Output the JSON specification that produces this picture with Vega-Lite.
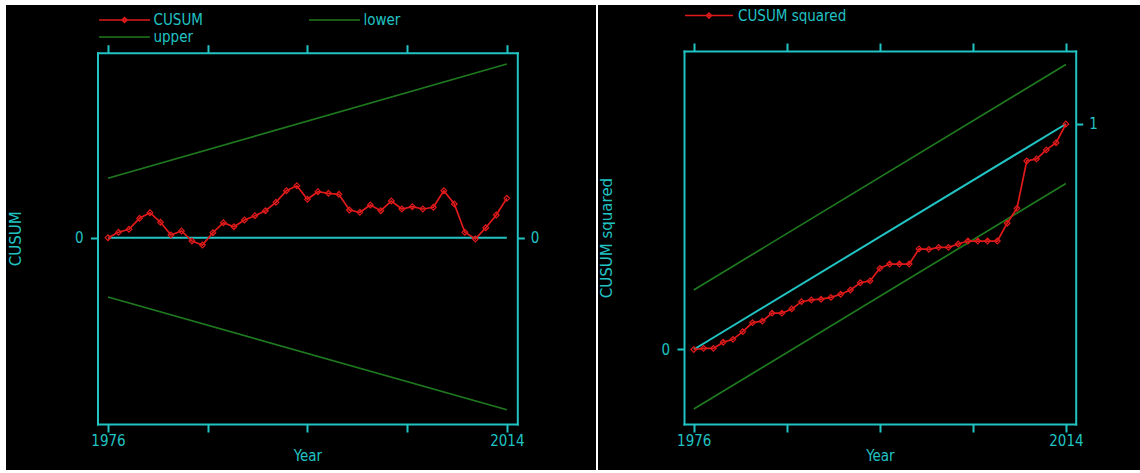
{
  "$schema": "https://vega.github.io/schema/vega-lite/v6.json",
  "background": "white",
  "padding": {"left": 6, "top": 5, "right": 0, "bottom": 3},
  "spacing": 2,
  "datasets": {
    "zero": [{"year": 1976, "value": 0}, {"year": 2014, "value": 0}],
    "cusum": [
      {"year": 1976, "series": "CUSUM", "value": 0},
      {"year": 1977, "series": "CUSUM", "value": 0.54},
      {"year": 1978, "series": "CUSUM", "value": 0.84},
      {"year": 1979, "series": "CUSUM", "value": 1.94},
      {"year": 1980, "series": "CUSUM", "value": 2.5},
      {"year": 1981, "series": "CUSUM", "value": 1.54},
      {"year": 1982, "series": "CUSUM", "value": 0.27},
      {"year": 1983, "series": "CUSUM", "value": 0.67},
      {"year": 1984, "series": "CUSUM", "value": -0.33},
      {"year": 1985, "series": "CUSUM", "value": -0.73},
      {"year": 1986, "series": "CUSUM", "value": 0.5},
      {"year": 1987, "series": "CUSUM", "value": 1.5},
      {"year": 1988, "series": "CUSUM", "value": 1.1},
      {"year": 1989, "series": "CUSUM", "value": 1.77},
      {"year": 1990, "series": "CUSUM", "value": 2.2},
      {"year": 1991, "series": "CUSUM", "value": 2.7},
      {"year": 1992, "series": "CUSUM", "value": 3.54},
      {"year": 1993, "series": "CUSUM", "value": 4.7},
      {"year": 1994, "series": "CUSUM", "value": 5.2},
      {"year": 1995, "series": "CUSUM", "value": 3.84},
      {"year": 1996, "series": "CUSUM", "value": 4.6},
      {"year": 1997, "series": "CUSUM", "value": 4.44},
      {"year": 1998, "series": "CUSUM", "value": 4.34},
      {"year": 1999, "series": "CUSUM", "value": 2.77},
      {"year": 2000, "series": "CUSUM", "value": 2.54},
      {"year": 2001, "series": "CUSUM", "value": 3.27},
      {"year": 2002, "series": "CUSUM", "value": 2.7},
      {"year": 2003, "series": "CUSUM", "value": 3.67},
      {"year": 2004, "series": "CUSUM", "value": 2.87},
      {"year": 2005, "series": "CUSUM", "value": 3.1},
      {"year": 2006, "series": "CUSUM", "value": 2.87},
      {"year": 2007, "series": "CUSUM", "value": 3.04},
      {"year": 2008, "series": "CUSUM", "value": 4.7},
      {"year": 2009, "series": "CUSUM", "value": 3.37},
      {"year": 2010, "series": "CUSUM", "value": 0.54},
      {"year": 2011, "series": "CUSUM", "value": -0.13},
      {"year": 2012, "series": "CUSUM", "value": 1.0},
      {"year": 2013, "series": "CUSUM", "value": 2.27},
      {"year": 2014, "series": "CUSUM", "value": 3.94},
      {"year": 1976, "series": "lower", "value": -5.93},
      {"year": 2014, "series": "lower", "value": -17.2},
      {"year": 1976, "series": "upper", "value": 5.94},
      {"year": 2014, "series": "upper", "value": 17.37}
    ],
    "sqexp": [{"year": 1976, "value": 0}, {"year": 2014, "value": 1}],
    "sqbounds": [
      {"year": 1976, "series": "lower", "value": -0.264},
      {"year": 2014, "series": "lower", "value": 0.736},
      {"year": 1976, "series": "upper", "value": 0.264},
      {"year": 2014, "series": "upper", "value": 1.264}
    ],
    "cusumsq": [
      {"year": 1976, "series": "CUSUM squared", "value": 0},
      {"year": 1977, "series": "CUSUM squared", "value": 0.005},
      {"year": 1978, "series": "CUSUM squared", "value": 0.005},
      {"year": 1979, "series": "CUSUM squared", "value": 0.032},
      {"year": 1980, "series": "CUSUM squared", "value": 0.045},
      {"year": 1981, "series": "CUSUM squared", "value": 0.079},
      {"year": 1982, "series": "CUSUM squared", "value": 0.119},
      {"year": 1983, "series": "CUSUM squared", "value": 0.126},
      {"year": 1984, "series": "CUSUM squared", "value": 0.161},
      {"year": 1985, "series": "CUSUM squared", "value": 0.161},
      {"year": 1986, "series": "CUSUM squared", "value": 0.18},
      {"year": 1987, "series": "CUSUM squared", "value": 0.212},
      {"year": 1988, "series": "CUSUM squared", "value": 0.22},
      {"year": 1989, "series": "CUSUM squared", "value": 0.223},
      {"year": 1990, "series": "CUSUM squared", "value": 0.231},
      {"year": 1991, "series": "CUSUM squared", "value": 0.245},
      {"year": 1992, "series": "CUSUM squared", "value": 0.264},
      {"year": 1993, "series": "CUSUM squared", "value": 0.296},
      {"year": 1994, "series": "CUSUM squared", "value": 0.304},
      {"year": 1995, "series": "CUSUM squared", "value": 0.36},
      {"year": 1996, "series": "CUSUM squared", "value": 0.379},
      {"year": 1997, "series": "CUSUM squared", "value": 0.379},
      {"year": 1998, "series": "CUSUM squared", "value": 0.379},
      {"year": 1999, "series": "CUSUM squared", "value": 0.446},
      {"year": 2000, "series": "CUSUM squared", "value": 0.444},
      {"year": 2001, "series": "CUSUM squared", "value": 0.453},
      {"year": 2002, "series": "CUSUM squared", "value": 0.453},
      {"year": 2003, "series": "CUSUM squared", "value": 0.468},
      {"year": 2004, "series": "CUSUM squared", "value": 0.481},
      {"year": 2005, "series": "CUSUM squared", "value": 0.481},
      {"year": 2006, "series": "CUSUM squared", "value": 0.481},
      {"year": 2007, "series": "CUSUM squared", "value": 0.481},
      {"year": 2008, "series": "CUSUM squared", "value": 0.56},
      {"year": 2009, "series": "CUSUM squared", "value": 0.626},
      {"year": 2010, "series": "CUSUM squared", "value": 0.836},
      {"year": 2011, "series": "CUSUM squared", "value": 0.845},
      {"year": 2012, "series": "CUSUM squared", "value": 0.885},
      {"year": 2013, "series": "CUSUM squared", "value": 0.917},
      {"year": 2014, "series": "CUSUM squared", "value": 1.0}
    ]
  },
  "hconcat": [
    {
      "width": 590,
      "height": 465,
      "resolve": {"axis": {"x": "independent", "y": "independent"}},
      "layer": [
        {
          "data": {"name": "zero"},
          "mark": {"type": "line", "color": "#21c3c3", "strokeWidth": 2},
          "encoding": {
            "x": {
              "field": "year", "type": "quantitative",
              "scale": {"domain": [1975, 2015], "range": [91.5, 511.3], "nice": false, "zero": false},
              "axis": {"orient": "bottom", "offset": -46, "values": [1976, 1985.5, 1995, 2004.5, 2014], "format": "d",
                "labelExpr": "datum.value == 1976 || datum.value == 2014 ? datum.label : ''",
                "title": "Year", "tickSize": 8, "labelPadding": 1, "titlePadding": 0}
            },
            "y": {
              "field": "value", "type": "quantitative",
              "scale": {"domain": [-18.63, 18.5], "range": [419, 47.7], "nice": false, "zero": false},
              "axis": {"orient": "left", "offset": -91.5, "values": [0], "title": "CUSUM", "tickSize": 7, "labelPadding": 7.5,
                "titlePadding": 51, "titleFont": "DejaVu Sans", "titleFontSize": 15}
            }
          }
        },
        {
          "data": {"name": "cusum"},
          "mark": {"type": "line", "strokeWidth": 1.7},
          "encoding": {
            "x": {
              "field": "year", "type": "quantitative",
              "axis": {"orient": "top", "offset": -47.7, "values": [1976, 1985.5, 1995, 2004.5, 2014], "labels": false, "title": null, "tickSize": 8}
            },
            "y": {
              "field": "value", "type": "quantitative",
              "axis": {"orient": "right", "offset": -78.7, "values": [0], "title": null, "tickSize": 7, "labelPadding": 6}
            },
            "color": {
              "field": "series", "type": "nominal",
              "scale": {"domain": ["CUSUM", "lower", "upper"], "range": ["#e01a1a", "#1f7a1f", "#1f7a1f"]},
              "legend": {
                "orient": "none", "legendX": 93, "legendY": 7, "title": null, "columns": 2, "direction": "horizontal",
                "columnPadding": 103, "rowPadding": 1,
                "symbolType": "M-3.64,0H3.64", "symbolSize": 196, "symbolStrokeWidth": 1.5,
                "symbolOffset": 17.5, "labelOffset": 21,
                "encode": {
                  "symbols": {
                    "update": {
                      "shape": {"signal": "datum.value === 'CUSUM' ? 'M-3.64,0H3.64M-0.36,0L0,-0.36L0.36,0L0,0.36Z' : 'M-3.64,0H3.64'"},
                      "fill": {"value": "transparent"}
                    }
                  }
                }
              }
            },
            "detail": {"field": "series"}
          }
        },
        {
          "data": {"name": "cusum"},
          "transform": [{"filter": "datum.series === 'CUSUM'"}],
          "mark": {"type": "point", "shape": "diamond", "filled": false, "color": "#e01a1a", "size": 32, "strokeWidth": 1.2, "opacity": 1},
          "encoding": {
            "x": {"field": "year", "type": "quantitative", "axis": null},
            "y": {"field": "value", "type": "quantitative", "axis": null}
          }
        }
      ]
    },
    {
      "width": 542,
      "height": 465,
      "resolve": {"axis": {"x": "independent", "y": "independent"}},
      "layer": [
        {
          "data": {"name": "sqexp"},
          "mark": {"type": "line", "color": "#21c3c3", "strokeWidth": 2},
          "encoding": {
            "x": {
              "field": "year", "type": "quantitative",
              "scale": {"domain": [1975, 2015], "range": [86, 477.7], "nice": false, "zero": false},
              "axis": {"orient": "bottom", "offset": -46, "values": [1976, 1985.5, 1995, 2004.5, 2014], "format": "d",
                "labelExpr": "datum.value == 1976 || datum.value == 2014 ? datum.label : ''",
                "title": "Year", "tickSize": 8, "labelPadding": 1, "titlePadding": 0}
            },
            "y": {
              "field": "value", "type": "quantitative",
              "scale": {"domain": [-0.3304, 1.3237], "range": [419, 46], "nice": false, "zero": false},
              "axis": {"orient": "left", "offset": -86, "values": [0], "title": "CUSUM squared", "tickSize": 7, "labelPadding": 7.5,
                "titlePadding": 46, "titleFont": "DejaVu Sans", "titleFontSize": 15}
            }
          }
        },
        {
          "data": {"name": "sqbounds"},
          "mark": {"type": "line", "color": "#1f7a1f", "strokeWidth": 1.7},
          "encoding": {
            "x": {
              "field": "year", "type": "quantitative",
              "axis": {"orient": "top", "offset": -46, "values": [1976, 1985.5, 1995, 2004.5, 2014], "labels": false, "title": null, "tickSize": 8}
            },
            "y": {
              "field": "value", "type": "quantitative",
              "axis": {"orient": "right", "offset": -64.3, "values": [1], "title": null, "tickSize": 7, "labelPadding": 6}
            },
            "detail": {"field": "series"}
          }
        },
        {
          "data": {"name": "cusumsq"},
          "mark": {"type": "line", "strokeWidth": 1.7},
          "encoding": {
            "x": {"field": "year", "type": "quantitative", "axis": null},
            "y": {"field": "value", "type": "quantitative", "axis": null},
            "color": {
              "field": "series", "type": "nominal",
              "scale": {"domain": ["CUSUM squared"], "range": ["#e01a1a"]},
              "legend": {
                "orient": "none", "legendX": 87, "legendY": 2.6, "title": null,
                "symbolType": "M-3.43,0H3.43M-0.36,0L0,-0.36L0.36,0L0,0.36Z", "symbolSize": 196, "symbolStrokeWidth": 1.5,
                "symbolOffset": 16, "labelOffset": 21,
                "encode": {"symbols": {"update": {"fill": {"value": "transparent"}}}}
              }
            }
          }
        },
        {
          "data": {"name": "cusumsq"},
          "mark": {"type": "point", "shape": "diamond", "filled": false, "color": "#e01a1a", "size": 32, "strokeWidth": 1.2, "opacity": 1},
          "encoding": {
            "x": {"field": "year", "type": "quantitative", "axis": null},
            "y": {"field": "value", "type": "quantitative", "axis": null}
          }
        }
      ]
    }
  ],
  "resolve": {
    "scale": {"x": "independent", "y": "independent", "color": "independent"},
    "legend": {"color": "independent"}
  },
  "config": {
    "view": {"fill": "black", "stroke": null},
    "axis": {
      "domainColor": "#21c3c3", "domainWidth": 2, "domainCap": "square",
      "tickColor": "#21c3c3", "tickWidth": 2,
      "labelColor": "#21c3c3", "titleColor": "#21c3c3",
      "grid": false,
      "labelFont": "Liberation Sans Narrow, DejaVu Sans Condensed, sans-serif", "labelFontSize": 15,
      "titleFont": "Liberation Sans Narrow, DejaVu Sans Condensed, sans-serif", "titleFontSize": 15,
      "titleFontWeight": "normal", "labelFlush": false, "labelOverlap": false
    },
    "legend": {
      "labelColor": "#21c3c3",
      "labelFont": "Liberation Sans Narrow, DejaVu Sans Condensed, sans-serif", "labelFontSize": 15,
      "padding": 0
    }
  }
}
